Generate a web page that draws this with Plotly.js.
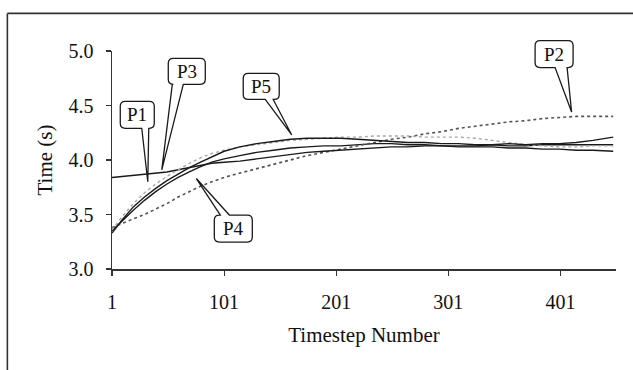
<!DOCTYPE html>
<html>
<head>
<meta charset="utf-8">
<script src="https://cdn.plot.ly/plotly-3.0.1.min.js"></script>
<style>
  html, body { margin: 0; padding: 0; background: #ffffff; }
  #chart { width: 633px; height: 370px; }
</style>
</head>
<body>
<div id="chart"></div>
<script>
// ---- data ----
var timesteps = [1, 10, 20, 30, 40, 50, 60, 70, 80, 90, 101, 115, 130, 145, 160, 175, 190, 205, 220, 235, 250, 265, 280, 295, 310, 325, 340, 355, 370, 385, 400, 415, 430, 448];

var p1 = [3.35, 3.44, 3.54, 3.63, 3.71, 3.78, 3.84, 3.89, 3.94, 3.98, 4.01, 4.04, 4.07, 4.09, 4.11, 4.12, 4.13, 4.13, 4.14, 4.15, 4.15, 4.14, 4.14, 4.13, 4.12, 4.12, 4.12, 4.11, 4.11, 4.10, 4.10, 4.09, 4.09, 4.08];
var p2 = [3.38, 3.42, 3.46, 3.50, 3.55, 3.60, 3.66, 3.71, 3.76, 3.80, 3.84, 3.88, 3.92, 3.96, 4.00, 4.04, 4.07, 4.10, 4.13, 4.16, 4.19, 4.21, 4.24, 4.26, 4.29, 4.31, 4.33, 4.35, 4.36, 4.38, 4.39, 4.40, 4.40, 4.40];
var p3 = [3.84, 3.85, 3.86, 3.87, 3.88, 3.89, 3.91, 3.93, 3.95, 3.97, 3.98, 3.99, 4.01, 4.03, 4.05, 4.07, 4.08, 4.09, 4.10, 4.11, 4.12, 4.12, 4.13, 4.13, 4.13, 4.13, 4.14, 4.13, 4.13, 4.14, 4.14, 4.14, 4.14, 4.14];
var p4 = [3.36, 3.48, 3.60, 3.70, 3.78, 3.85, 3.91, 3.97, 4.02, 4.06, 4.09, 4.12, 4.14, 4.16, 4.18, 4.19, 4.20, 4.21, 4.21, 4.22, 4.22, 4.22, 4.21, 4.21, 4.21, 4.20, 4.18, 4.16, 4.14, 4.13, 4.12, 4.12, 4.13, 4.13];
var p5 = [3.33, 3.45, 3.57, 3.66, 3.74, 3.81, 3.87, 3.93, 3.98, 4.03, 4.08, 4.12, 4.15, 4.17, 4.19, 4.20, 4.20, 4.20, 4.19, 4.18, 4.17, 4.16, 4.16, 4.15, 4.15, 4.14, 4.14, 4.15, 4.14, 4.15, 4.15, 4.16, 4.18, 4.21];

var xTickVals = [1, 101, 201, 301, 401];
var xTickText = ['1', '101', '201', '301', '401'];
var yTickVals = [3.0, 3.5, 4.0, 4.5, 5.0];
var yTickText = ['3.0', '3.5', '4.0', '4.5', '5.0'];

var seriesNames = ['P1', 'P2', 'P3', 'P4', 'P5'];

// callout labels: the data point each one points at
var calloutLabels = ['P1', 'P3', 'P5', 'P4', 'P2'];
var calloutTipX = [32.9, 45.4, 161.3, 76.2, 410.9];
var calloutTipY = [3.80, 3.91, 4.23, 3.83, 4.44];

// ---- styles / layout ----
var FONT = 'Liberation Serif, Times New Roman, serif';
var xRange = [1, 450.5];
var yRange = [3.0, 5.0];

// callout geometry in pixels relative to the tip (y up)
var calloutGeom = [
  {xl: -27.5, xr: 6.5,  yb: 53.5,  yt: 80.5,  w1: -6,    w2: 1,     edge: 'bottom'},
  {xl: 6.5,   xr: 43.5, yb: 85.5,  yt: 111.5, w1: 10.5,  w2: 21.5,  edge: 'bottom'},
  {xl: -48.5, xr: -12.5, yb: 35.5, yt: 61.5,  w1: -26.5, w2: -18.5, edge: 'bottom'},
  {xl: 18,    xr: 56,   yb: -63.5, yt: -36.5, w1: 24,    w2: 33,    edge: 'top'},
  {xl: -36.5, xr: 1.5,  yb: 44.5,  yt: 71.5,  w1: -16.5, w2: -4.5,  edge: 'bottom'}
];

function calloutPath(g) {
  var r = 5;
  var p = 'M' + (g.xl + r) + ',' + g.yt;
  if (g.edge === 'top') {
    p += ' L' + g.w1 + ',' + g.yt + ' L0,0 L' + g.w2 + ',' + g.yt;
  }
  p += ' L' + (g.xr - r) + ',' + g.yt;
  p += ' Q' + g.xr + ',' + g.yt + ' ' + g.xr + ',' + (g.yt - r);
  p += ' L' + g.xr + ',' + (g.yb + r);
  p += ' Q' + g.xr + ',' + g.yb + ' ' + (g.xr - r) + ',' + g.yb;
  if (g.edge === 'bottom') {
    p += ' L' + g.w2 + ',' + g.yb + ' L0,0 L' + g.w1 + ',' + g.yb;
  }
  p += ' L' + (g.xl + r) + ',' + g.yb;
  p += ' Q' + g.xl + ',' + g.yb + ' ' + g.xl + ',' + (g.yb + r);
  p += ' L' + g.xl + ',' + (g.yt - r);
  p += ' Q' + g.xl + ',' + g.yt + ' ' + (g.xl + r) + ',' + g.yt + ' Z';
  return p;
}

var lineStyles = {
  P1: {color: '#1a1a1a', width: 1.4},
  P2: {color: '#555555', width: 1.6, dash: 'dot'},
  P3: {color: '#1a1a1a', width: 1.4},
  P4: {color: '#a8a8a8', width: 1.4, dash: 'dot'},
  P5: {color: '#1a1a1a', width: 1.4}
};
var seriesValues = {P1: p1, P2: p2, P3: p3, P4: p4, P5: p5};

var traces = seriesNames.map(function (n) {
  return {
    x: timesteps,
    y: seriesValues[n],
    type: 'scatter',
    mode: 'lines',
    name: n,
    line: lineStyles[n],
    hoverinfo: 'skip'
  };
});

var shapes = [];
var annotations = [];
calloutLabels.forEach(function (lab, i) {
  var g = calloutGeom[i];
  var px = (calloutTipX[i] - xRange[0]) / (xRange[1] - xRange[0]);
  var py = (calloutTipY[i] - yRange[0]) / (yRange[1] - yRange[0]);
  shapes.push({
    type: 'path',
    xref: 'paper', yref: 'paper',
    xsizemode: 'pixel', ysizemode: 'pixel',
    xanchor: px, yanchor: py,
    path: calloutPath(g),
    fillcolor: '#ffffff',
    line: {color: '#1a1a1a', width: 1.3},
    layer: 'above'
  });
  annotations.push({
    text: lab,
    xref: 'x', yref: 'y',
    x: calloutTipX[i], y: calloutTipY[i],
    xshift: (g.xl + g.xr) / 2,
    yshift: (g.yb + g.yt) / 2,
    showarrow: false,
    font: {family: FONT, size: 19, color: '#111111'}
  });
});

// outer frame (top and left edges of the scanned figure box)
shapes.push({type: 'line', xref: 'paper', yref: 'paper', x0: -0.2076, x1: 1.04, y0: 1.1724, y1: 1.1724, line: {color: '#333333', width: 1.6}});
shapes.push({type: 'line', xref: 'paper', yref: 'paper', x0: -0.2076, x1: -0.2076, y0: 1.1724, y1: -0.47, line: {color: '#333333', width: 1.6}});

var layout = {
  width: 633,
  height: 370,
  margin: {l: 112, r: 17, t: 51, b: 101, pad: 0},
  paper_bgcolor: '#ffffff',
  plot_bgcolor: '#ffffff',
  showlegend: false,
  font: {family: FONT, size: 20, color: '#111111'},
  xaxis: {
    range: xRange,
    tickvals: xTickVals,
    ticktext: xTickText,
    showgrid: false,
    zeroline: false,
    showline: true,
    linecolor: '#333333',
    linewidth: 1.5,
    ticks: 'outside',
    ticklen: 5,
    tickwidth: 1.2,
    tickcolor: '#333333',
    ticklabelstandoff: 9,
    tickfont: {family: FONT, size: 20, color: '#111111'},
    title: {text: 'Timestep Number', font: {family: FONT, size: 21, color: '#111111'}, standoff: 16}
  },
  yaxis: {
    range: yRange,
    tickvals: yTickVals,
    ticktext: yTickText,
    showgrid: false,
    zeroline: false,
    showline: true,
    linecolor: '#333333',
    linewidth: 1.5,
    ticks: 'outside',
    ticklen: 5,
    tickwidth: 1.2,
    tickcolor: '#333333',
    ticklabelstandoff: 8,
    tickfont: {family: FONT, size: 20, color: '#111111'},
    title: {text: 'Time (s)', font: {family: FONT, size: 21, color: '#111111'}, standoff: 10}
  },
  shapes: shapes,
  annotations: annotations
};

Plotly.newPlot('chart', traces, layout, {displayModeBar: false, staticPlot: true});
</script>
</body>
</html>
